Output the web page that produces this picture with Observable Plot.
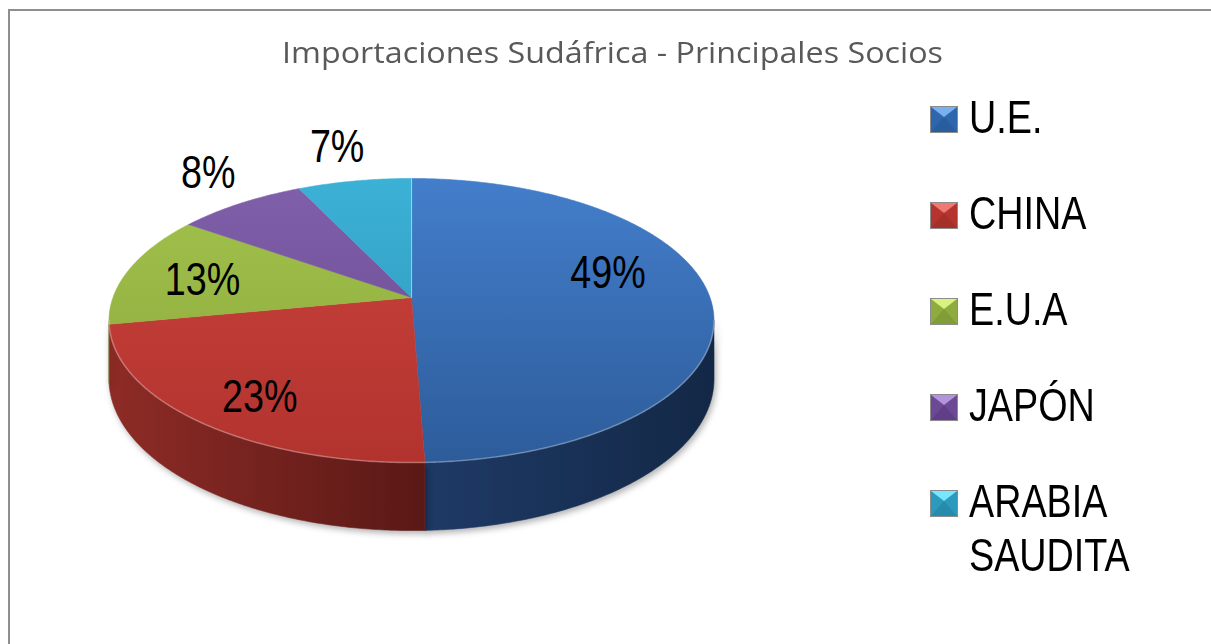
<!DOCTYPE html>
<html>
<head>
<meta charset="utf-8">
<script src="https://cdn.jsdelivr.net/npm/d3@7"></script>
<script src="https://cdn.jsdelivr.net/npm/@observablehq/plot@0.6"></script>
<style>
  html, body { margin: 0; padding: 0; background: #fff; }
  #wrap { position: relative; width: 1211px; height: 644px; overflow: hidden; background: #fff; }
  #frame { position: absolute; left: 8px; top: 9px; width: 1300px; height: 800px;
           border-left: 2px solid #8e8e8e; border-top: 2px solid #8e8e8e; box-sizing: border-box; }
  #title { position: relative; height: 90px; width: 1211px; }
  #title span { position: absolute; left: 0; top: 37px; display: inline-block;
                font-family: "Open Sans", "Noto Sans", sans-serif; font-size: 29px; line-height: 29px;
                color: #595959; white-space: nowrap; transform-origin: 0 50%; }
  #chart { position: relative; }
  #legend { position: absolute; left: 0; top: 0; width: 1211px; height: 644px; pointer-events: none; }
  .item { position: absolute; left: 931px; }
  .sw { position: absolute; left: 0; width: 0; height: 0; border-style: solid;
        border-width: 10px 13px 15px 13px; box-shadow: 0 0 0 1px rgba(0,0,0,0.45); }
  .lt { position: absolute; left: 38px; width: 200px; transform: scaleX(0.82); transform-origin: 0 0;
        font-family: "Liberation Sans", Arial, sans-serif;
        font-size: 46px; line-height: 54px; color: #000; }
</style>
</head>
<body>
<div id="wrap">
  <div id="frame"></div>
  <div id="title"><span id="ttl">Importaciones Sudáfrica - Principales Socios</span></div>
  <div id="chart"></div>
  <div id="legend"></div>
</div>
<script>
// ---------- data ----------
const categories = ["U.E.", "CHINA", "E.U.A", "JAPÓN", "ARABIA SAUDITA"];
const shares = [49.4, 22.6, 12.8, 8.1, 7.1];
const percentLabels = ["49%", "23%", "13%", "8%", "7%"];

// ---------- styles / layout ----------
const topLight  = ["#437ecb", "#cc433d", "#a2c24c", "#8060aa", "#3cb1d6"];
const topDark   = ["#2d5c9a", "#b2332e", "#8aa73b", "#684690", "#2b93b5"];
const sideLight = ["#1e3a66", "#8e2b26", "#6a8228", "#4b3168", "#1f6e87"];
const sideDark  = ["#132846", "#5a1916", "#55691f", "#3a2550", "#18576b"];
const labelPlace = [
  {r: 0.66, dx: 0, dy: -23}, {r: 0.784, dx: 10, dy: 6}, {r: 0.731, dx: -1, dy: 4},
  {r: 1.34, dx: 18, dy: -3}, {r: 1.37, dx: 0, dy: 2}
];
const K = 0.162;      // perspective strength
const DEPTH = 0.412;  // thickness of the pie (model units)
const CX = 411, RX = 298.5, CY = 207, RY = 138.3; // pixel placement of the unit disk
const NARROW = 0.82;

// ---------- geometry ----------
const arcs = d3.pie().sort(null).value(d => d)(shares);
function proj(t, r = 1, h = 0) {
  const u = r * Math.sin(t), v = -r * Math.cos(t), w = 1 - K * v;
  return {x: u / w, y: (v + h) / w};
}
function arcPts(a0, a1, r, h) {
  const n = Math.max(2, Math.ceil(Math.abs(a1 - a0) / (Math.PI / 360)));
  return d3.range(n + 1).map(i => proj(a0 + (a1 - a0) * i / n, r, h));
}
const tR = Math.acos(-K), tL = 2 * Math.PI - Math.acos(-K);

const tops = arcs.map(a => [proj(0, 0)].concat(arcPts(a.startAngle, a.endAngle, 1, 0)));
const walls = arcs.map(a => {
  const a0 = Math.max(a.startAngle, tR), a1 = Math.min(a.endAngle, tL);
  if (a1 <= a0) return null;
  return arcPts(a0, a1, 1, 0).concat(arcPts(a1, a0, 1, DEPTH));
});
const rim = arcPts(tR, tL, 1, 0);
const startEdge = [proj(arcs[0].startAngle, 0), proj(arcs[0].startAngle, 1)];
const labelData = arcs.map((a, i) => {
  const m = (a.startAngle + a.endAngle) / 2, p = proj(m, labelPlace[i].r);
  return {x: p.x + labelPlace[i].dx / RX, y: p.y + labelPlace[i].dy / RY, text: percentLabels[i]};
});

const marks = [];
walls.forEach((w, i) => {
  if (w) marks.push(Plot.line(w, {x: "x", y: "y", curve: "linear-closed", fill: sideDark[i],
    stroke: sideDark[i], strokeWidth: 0.6, ariaDescription: `side${i}`}));
});
tops.forEach((t, i) => {
  marks.push(Plot.line(t, {x: "x", y: "y", curve: "linear-closed", fill: topDark[i],
    stroke: topDark[i], strokeWidth: 0.6, ariaDescription: `top${i}`}));
});
marks.push(Plot.line(rim, {x: "x", y: "y", stroke: "#ffffff", strokeOpacity: 0.28, strokeWidth: 1.6}));
marks.push(Plot.line(startEdge, {x: "x", y: "y", stroke: "#ffffff", strokeOpacity: 0.45, strokeWidth: 1}));
marks.push(Plot.text(labelData, {x: "x", y: "y", text: "text", fill: "#000", fontSize: 46,
  fontFamily: "'Liberation Sans', Arial, sans-serif",
  textAnchor: "middle", lineAnchor: "middle", ariaDescription: "pct"}));

const plot = Plot.plot({
  width: 1211, height: 554, margin: 0,
  style: {background: "transparent", overflow: "visible"},
  x: {domain: [-1, 1], range: [CX - RX, CX + RX], axis: null},
  y: {domain: [-1, 1], range: [CY - RY, CY + RY], axis: null},
  marks
});

// gradients (applied to the marks Plot drew)
const svg = d3.select(plot);
const ys = plot.scale("y");
const defs = svg.insert("defs", ":first-child");
const yTop = ys.apply(-1 / (1 + K)), yBot = ys.apply(1 / (1 - K));
arcs.forEach((a, i) => {
  const g = defs.append("linearGradient").attr("id", `gtop${i}`).attr("gradientUnits", "userSpaceOnUse")
    .attr("x1", 0).attr("x2", 0).attr("y1", yTop).attr("y2", yBot);
  g.append("stop").attr("offset", 0).attr("stop-color", topLight[i]);
  g.append("stop").attr("offset", 1).attr("stop-color", topDark[i]);
  const s = defs.append("linearGradient").attr("id", `gside${i}`).attr("x1", 0).attr("x2", 1).attr("y1", 0).attr("y2", 0);
  s.append("stop").attr("offset", 0).attr("stop-color", sideLight[i]);
  s.append("stop").attr("offset", 1).attr("stop-color", sideDark[i]);
  svg.selectAll(`g[aria-description="top${i}"], g[aria-description="top${i}"] path`)
    .attr("fill", `url(#gtop${i})`).attr("stroke", `url(#gtop${i})`);
  svg.selectAll(`g[aria-description="side${i}"], g[aria-description="side${i}"] path`)
    .attr("fill", `url(#gside${i})`).attr("stroke", `url(#gside${i})`);
});
svg.selectAll('g[aria-description^="side"]').style("filter", "drop-shadow(2px 3px 3px rgba(0,0,0,0.3))");
// condensed look for the percentage labels
svg.selectAll('g[aria-description="pct"] text').each(function() {
  const t = d3.select(this);
  const x = t.attr("x");
  let tr = t.attr("transform") || "";
  if (x != null) { tr += ` translate(${x},0)`; t.attr("x", null); }
  t.attr("transform", tr + ` scale(${NARROW},1)`);
});
document.getElementById("chart").appendChild(plot);

// ---------- title fit ----------
const ttl = document.getElementById("ttl");
const tw = ttl.getBoundingClientRect().width;
const sx = 661 / tw;
ttl.style.left = (612.5 - 661 / 2) + "px";
ttl.style.transform = `scaleX(${sx})`;

// ---------- legend ----------
const swLight = ["#79b0f0", "#ee7a72", "#d8f27f", "#b194dc", "#79e6fd"];
const swMid   = ["#2e66ad", "#b5352e", "#8dab3e", "#6b4994", "#2b9abd"];
const swDark  = ["#2a5d9e", "#a5302a", "#819d38", "#613f88", "#268cad"];
const legend = d3.select("#legend");
categories.forEach((c, i) => {
  const item = legend.append("div").attr("class", "item").style("top", (90 + 96 * i) + "px");
  item.append("div").attr("class", "sw").style("top", "17px")
    .style("border-top-color", swLight[i]).style("border-left-color", swMid[i])
    .style("border-right-color", swMid[i]).style("border-bottom-color", swDark[i]);
  item.append("div").attr("class", "lt").text(c);
});
</script>
</body>
</html>
